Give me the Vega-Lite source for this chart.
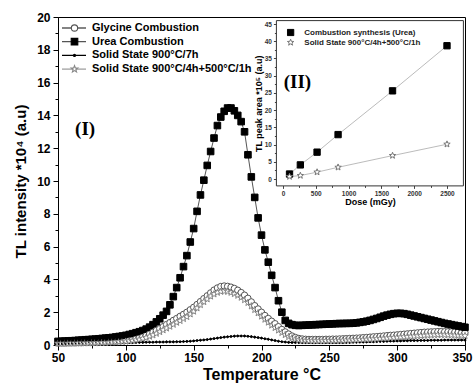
{
  "$schema": "https://vega.github.io/schema/vega-lite/v6.json",
  "width": 407,
  "height": 328,
  "autosize": "none",
  "padding": {"left": 58, "top": 17, "right": 9, "bottom": 45},
  "background": "white",
  "config": {
    "view": {"stroke": "black", "strokeWidth": 1},
    "font": "Liberation Sans",
    "axis": {"grid": false, "labelColor": "black", "tickColor": "black", "domainColor": "black", "titleColor": "black", "labelFont": "Liberation Sans", "titleFont": "Liberation Sans"}
  },
  "datasets": {
    "tl": [
      {"t":50,"G":0.12,"U":0.22,"D":0.15,"S":0.10},
      {"t":52.5,"G":0.12,"U":0.23,"D":0.15,"S":0.10},
      {"t":55,"G":0.12,"U":0.24,"D":0.15,"S":0.10},
      {"t":57.5,"G":0.13,"U":0.25,"D":0.15,"S":0.10},
      {"t":60,"G":0.13,"U":0.26,"D":0.15,"S":0.11},
      {"t":62.5,"G":0.13,"U":0.27,"D":0.15,"S":0.11},
      {"t":65,"G":0.14,"U":0.29,"D":0.15,"S":0.11},
      {"t":67.5,"G":0.14,"U":0.30,"D":0.15,"S":0.12},
      {"t":70,"G":0.15,"U":0.32,"D":0.15,"S":0.12},
      {"t":72.5,"G":0.16,"U":0.33,"D":0.15,"S":0.12},
      {"t":75,"G":0.16,"U":0.35,"D":0.15,"S":0.13},
      {"t":77.5,"G":0.17,"U":0.36,"D":0.15,"S":0.13},
      {"t":80,"G":0.18,"U":0.38,"D":0.15,"S":0.14},
      {"t":82.5,"G":0.19,"U":0.40,"D":0.15,"S":0.15},
      {"t":85,"G":0.20,"U":0.42,"D":0.15,"S":0.15},
      {"t":87.5,"G":0.21,"U":0.44,"D":0.15,"S":0.16},
      {"t":90,"G":0.22,"U":0.46,"D":0.15,"S":0.17},
      {"t":92.5,"G":0.24,"U":0.49,"D":0.15,"S":0.18},
      {"t":95,"G":0.26,"U":0.52,"D":0.15,"S":0.19},
      {"t":97.5,"G":0.28,"U":0.55,"D":0.15,"S":0.21},
      {"t":100,"G":0.30,"U":0.59,"D":0.15,"S":0.22},
      {"t":102.5,"G":0.33,"U":0.64,"D":0.15,"S":0.24},
      {"t":105,"G":0.36,"U":0.69,"D":0.15,"S":0.27},
      {"t":107.5,"G":0.40,"U":0.75,"D":0.16,"S":0.30},
      {"t":110,"G":0.45,"U":0.81,"D":0.16,"S":0.34},
      {"t":112.5,"G":0.51,"U":0.88,"D":0.16,"S":0.39},
      {"t":115,"G":0.58,"U":0.97,"D":0.17,"S":0.45},
      {"t":117.5,"G":0.67,"U":1.09,"D":0.17,"S":0.52},
      {"t":120,"G":0.78,"U":1.24,"D":0.17,"S":0.60},
      {"t":122.5,"G":0.89,"U":1.41,"D":0.18,"S":0.70},
      {"t":125,"G":1.00,"U":1.60,"D":0.18,"S":0.80},
      {"t":127.5,"G":1.12,"U":1.82,"D":0.18,"S":0.91},
      {"t":130,"G":1.25,"U":2.05,"D":0.19,"S":1.02},
      {"t":132.5,"G":1.37,"U":2.45,"D":0.19,"S":1.13},
      {"t":135,"G":1.50,"U":2.95,"D":0.19,"S":1.25},
      {"t":137.5,"G":1.62,"U":3.50,"D":0.20,"S":1.37},
      {"t":140,"G":1.75,"U":4.10,"D":0.20,"S":1.48},
      {"t":142.5,"G":1.87,"U":4.78,"D":0.21,"S":1.60},
      {"t":145,"G":2.00,"U":5.45,"D":0.22,"S":1.72},
      {"t":147.5,"G":2.15,"U":6.28,"D":0.23,"S":1.88},
      {"t":150,"G":2.30,"U":7.10,"D":0.25,"S":2.05},
      {"t":152.5,"G":2.47,"U":8.15,"D":0.27,"S":2.25},
      {"t":155,"G":2.65,"U":9.15,"D":0.29,"S":2.45},
      {"t":157.5,"G":2.83,"U":10.05,"D":0.31,"S":2.63},
      {"t":160,"G":3.00,"U":10.95,"D":0.33,"S":2.80},
      {"t":162.5,"G":3.18,"U":11.80,"D":0.36,"S":2.97},
      {"t":165,"G":3.35,"U":12.62,"D":0.39,"S":3.10},
      {"t":167.5,"G":3.48,"U":13.38,"D":0.42,"S":3.20},
      {"t":170,"G":3.57,"U":13.90,"D":0.45,"S":3.26},
      {"t":172.5,"G":3.60,"U":14.25,"D":0.48,"S":3.28},
      {"t":175,"G":3.58,"U":14.45,"D":0.50,"S":3.26},
      {"t":177.5,"G":3.53,"U":14.45,"D":0.52,"S":3.20},
      {"t":180,"G":3.45,"U":14.28,"D":0.54,"S":3.12},
      {"t":182.5,"G":3.34,"U":14.00,"D":0.55,"S":3.02},
      {"t":185,"G":3.20,"U":13.62,"D":0.55,"S":2.90},
      {"t":187.5,"G":3.04,"U":13.00,"D":0.55,"S":2.75},
      {"t":190,"G":2.85,"U":11.60,"D":0.53,"S":2.58},
      {"t":192.5,"G":2.63,"U":10.25,"D":0.51,"S":2.37},
      {"t":195,"G":2.40,"U":9.00,"D":0.48,"S":2.15},
      {"t":197.5,"G":2.20,"U":7.75,"D":0.45,"S":1.95},
      {"t":200,"G":2.00,"U":6.70,"D":0.42,"S":1.75},
      {"t":202.5,"G":1.80,"U":5.80,"D":0.38,"S":1.56},
      {"t":205,"G":1.62,"U":5.05,"D":0.35,"S":1.38},
      {"t":207.5,"G":1.45,"U":4.25,"D":0.31,"S":1.20},
      {"t":210,"G":1.30,"U":3.50,"D":0.27,"S":1.05},
      {"t":212.5,"G":1.12,"U":2.70,"D":0.23,"S":0.90},
      {"t":215,"G":0.95,"U":2.00,"D":0.20,"S":0.75},
      {"t":217.5,"G":0.80,"U":1.50,"D":0.18,"S":0.62},
      {"t":220,"G":0.67,"U":1.32,"D":0.16,"S":0.50},
      {"t":222.5,"G":0.55,"U":1.24,"D":0.15,"S":0.42},
      {"t":225,"G":0.46,"U":1.20,"D":0.15,"S":0.35},
      {"t":227.5,"G":0.40,"U":1.19,"D":0.15,"S":0.31},
      {"t":230,"G":0.37,"U":1.20,"D":0.15,"S":0.28},
      {"t":232.5,"G":0.35,"U":1.21,"D":0.15,"S":0.27},
      {"t":235,"G":0.34,"U":1.22,"D":0.15,"S":0.26},
      {"t":237.5,"G":0.34,"U":1.23,"D":0.15,"S":0.25},
      {"t":240,"G":0.34,"U":1.24,"D":0.15,"S":0.25},
      {"t":242.5,"G":0.34,"U":1.25,"D":0.15,"S":0.25},
      {"t":245,"G":0.34,"U":1.26,"D":0.15,"S":0.25},
      {"t":247.5,"G":0.35,"U":1.27,"D":0.15,"S":0.26},
      {"t":250,"G":0.35,"U":1.28,"D":0.15,"S":0.26},
      {"t":252.5,"G":0.36,"U":1.29,"D":0.15,"S":0.26},
      {"t":255,"G":0.36,"U":1.30,"D":0.15,"S":0.27},
      {"t":257.5,"G":0.37,"U":1.31,"D":0.15,"S":0.27},
      {"t":260,"G":0.38,"U":1.31,"D":0.15,"S":0.28},
      {"t":262.5,"G":0.39,"U":1.32,"D":0.16,"S":0.29},
      {"t":265,"G":0.40,"U":1.32,"D":0.16,"S":0.29},
      {"t":267.5,"G":0.41,"U":1.33,"D":0.17,"S":0.30},
      {"t":270,"G":0.42,"U":1.35,"D":0.17,"S":0.31},
      {"t":272.5,"G":0.43,"U":1.38,"D":0.18,"S":0.32},
      {"t":275,"G":0.45,"U":1.41,"D":0.18,"S":0.33},
      {"t":277.5,"G":0.46,"U":1.45,"D":0.19,"S":0.34},
      {"t":280,"G":0.48,"U":1.50,"D":0.20,"S":0.35},
      {"t":282.5,"G":0.50,"U":1.56,"D":0.20,"S":0.36},
      {"t":285,"G":0.51,"U":1.62,"D":0.21,"S":0.37},
      {"t":287.5,"G":0.53,"U":1.69,"D":0.22,"S":0.39},
      {"t":290,"G":0.55,"U":1.76,"D":0.22,"S":0.40},
      {"t":292.5,"G":0.57,"U":1.82,"D":0.23,"S":0.41},
      {"t":295,"G":0.59,"U":1.87,"D":0.24,"S":0.43},
      {"t":297.5,"G":0.60,"U":1.91,"D":0.24,"S":0.44},
      {"t":300,"G":0.62,"U":1.93,"D":0.25,"S":0.46},
      {"t":302.5,"G":0.64,"U":1.93,"D":0.25,"S":0.47},
      {"t":305,"G":0.66,"U":1.91,"D":0.26,"S":0.49},
      {"t":307.5,"G":0.68,"U":1.87,"D":0.26,"S":0.50},
      {"t":310,"G":0.70,"U":1.82,"D":0.27,"S":0.52},
      {"t":312.5,"G":0.72,"U":1.77,"D":0.27,"S":0.53},
      {"t":315,"G":0.74,"U":1.72,"D":0.27,"S":0.55},
      {"t":317.5,"G":0.76,"U":1.67,"D":0.28,"S":0.56},
      {"t":320,"G":0.78,"U":1.62,"D":0.28,"S":0.58},
      {"t":322.5,"G":0.79,"U":1.57,"D":0.28,"S":0.59},
      {"t":325,"G":0.80,"U":1.52,"D":0.29,"S":0.60},
      {"t":327.5,"G":0.81,"U":1.47,"D":0.29,"S":0.61},
      {"t":330,"G":0.82,"U":1.42,"D":0.29,"S":0.62},
      {"t":332.5,"G":0.82,"U":1.37,"D":0.29,"S":0.62},
      {"t":335,"G":0.81,"U":1.32,"D":0.30,"S":0.61},
      {"t":337.5,"G":0.81,"U":1.28,"D":0.30,"S":0.61},
      {"t":340,"G":0.80,"U":1.24,"D":0.30,"S":0.60},
      {"t":342.5,"G":0.79,"U":1.20,"D":0.30,"S":0.59},
      {"t":345,"G":0.78,"U":1.16,"D":0.30,"S":0.58},
      {"t":347.5,"G":0.76,"U":1.12,"D":0.30,"S":0.57},
      {"t":350,"G":0.75,"U":1.08,"D":0.30,"S":0.56}
    ],
    "inset": [
      {"series":"U","dose":100,"area":1.45},
      {"series":"U","dose":265,"area":4.1},
      {"series":"U","dose":520,"area":7.8},
      {"series":"U","dose":840,"area":12.9},
      {"series":"U","dose":1670,"area":25.6},
      {"series":"U","dose":2500,"area":38.7},
      {"series":"S","dose":100,"area":0.7},
      {"series":"S","dose":265,"area":1.0},
      {"series":"S","dose":520,"area":2.0},
      {"series":"S","dose":840,"area":3.4},
      {"series":"S","dose":1670,"area":6.8},
      {"series":"S","dose":2500,"area":10.1}
    ]
  },
  "layer": [
    {
      "encoding": {
        "x": {
          "field": "t", "type": "quantitative",
          "scale": {"domain": [50, 350], "nice": false, "zero": false},
          "axis": {
            "orient": "bottom",
            "values": [50,75,100,125,150,175,200,225,250,275,300,325,350],
            "labelExpr": "datum.value % 50 === 0 ? datum.label : ''",
            "tickSize": {"condition": {"test": "datum.value % 50 === 0", "value": 5}, "value": 3},
            "labelAlign": {"condition": {"test": "datum.value === 350", "value": "right"}, "value": "center"},
            "labelOffset": {"condition": {"test": "datum.value === 350", "value": 7}, "value": 0},
            "labelFontSize": 12, "labelFontWeight": "bold", "labelPadding": 2, "labelOverlap": false, "labelFlush": false,
            "title": "Temperature °C", "titleFontSize": 16, "titleFontWeight": "bold", "titlePadding": 3
          }
        },
        "y": {
          "field": "v", "type": "quantitative",
          "scale": {"domain": [0, 20], "nice": false},
          "axis": {
            "orient": "left",
            "values": [0,1,2,3,4,5,6,7,8,9,10,11,12,13,14,15,16,17,18,19,20],
            "labelExpr": "datum.value % 2 === 0 ? datum.label : ''",
            "tickSize": {"condition": {"test": "datum.value % 2 === 0", "value": 5}, "value": 3},
            "labelFontSize": 12, "labelFontWeight": "bold", "labelPadding": 3, "labelOverlap": false,
            "title": "TL intensity *10⁴ (a.u)", "titleFontSize": 15, "titleFontWeight": "bold", "titlePadding": 8
          }
        }
      },
      "layer": [
        {
          "data": {"name": "tl"},
          "transform": [{"fold": ["G", "U", "D", "S"], "as": ["series", "v"]}],
          "mark": {"type": "line", "strokeWidth": 1},
          "encoding": {
            "color": {
              "field": "series", "type": "nominal",
              "scale": {"domain": ["G","U","D","S","X"], "range": ["#333333","#555555","#000000","#999999","#000000"]},
              "legend": {
                "values": ["G","U","D","S"], "orient": "none", "legendX": 3, "legendY": 5, "title": null, "padding": 0,
                "symbolType": "stroke", "symbolSize": 576, "symbolStrokeWidth": 1.2,
                "clipHeight": 12, "rowPadding": 1.7, "labelExpr": "''", "labelFontSize": 1, "labelOffset": 0
              }
            },
            "strokeWidth": {"field": "series", "type": "nominal", "scale": {"domain": ["S","D","U","G"], "range": [1, 2, 0.8, 1]}, "legend": null}
          }
        },
        {
          "data": {"name": "tl"},
          "transform": [{"fold": ["G", "U", "D", "S"], "as": ["series", "v"]}],
          "mark": {"type": "point", "filled": true, "opacity": 1, "strokeWidth": 1},
          "encoding": {
            "shape": {
              "field": "series", "type": "nominal",
              "scale": {"domain": ["G","U","D","S"], "range": ["circle", "square", "M0.3,0A0.3,0.3 0 1 1 -0.3,0A0.3,0.3 0 1 1 0.3,0Z", "M0,-1L0.247,-0.34L0.951,-0.309L0.4,0.13L0.588,0.809L0,0.42L-0.588,0.809L-0.4,0.13L-0.951,-0.309L-0.247,-0.34Z"]},
              "legend": {
                "orient": "none", "legendX": 11, "legendY": 5, "title": null, "padding": 0, "symbolSize": 50,
                "labelOffset": 12, "rowPadding": 1.7, "clipHeight": 12, "labelLimit": 300, "symbolStrokeWidth": 1.1, "symbolOpacity": 1,
                "labelFontSize": 11, "labelFontWeight": "bold", "labelColor": "black", "labelFont": "Liberation Sans",
                "labelExpr": "datum.value === 'G' ? 'Glycine Combustion' : datum.value === 'U' ? 'Urea Combustion' : datum.value === 'D' ? 'Solid State 900°C/7h' : 'Solid State 900°C/4h+500°C/1h'"
              }
            },
            "fill": {"field": "series", "type": "nominal", "scale": {"domain": ["G","U","D","S"], "range": ["white","black","black","white"]}},
            "stroke": {"field": "series", "type": "nominal", "scale": {"domain": ["G","U","D","S"], "range": ["#555555","black","black","#888888"]}},
            "size": {"field": "series", "type": "nominal", "scale": {"domain": ["G","U","D","S"], "range": [40, 50, 50, 64]}}
          }
        },
        {
          "data": {"values": [{"t": 70, "v": 13.2, "label": "(I)"}]},
          "mark": {"type": "text", "font": "Liberation Serif", "fontWeight": "bold", "fontSize": 19, "color": "black", "baseline": "middle", "align": "center"},
          "encoding": {"text": {"field": "label"}}
        }
      ]
    },
    {
      "encoding": {
        "x": {
          "field": "dose", "type": "quantitative",
          "scale": {"domain": [-100, 2750], "range": [218.4, 405.4], "nice": false, "zero": false},
          "axis": {
            "orient": "bottom", "offset": -159.6, "domain": false, "format": "d",
            "values": [0,250,500,750,1000,1250,1500,1750,2000,2250,2500],
            "labelExpr": "datum.value % 500 === 0 ? datum.label : ''",
            "tickSize": {"condition": {"test": "datum.value % 500 === 0", "value": 3}, "value": 2},
            "tickColor": "#444444", "labelColor": "#333333",
            "labelFontSize": 6.5, "labelFontWeight": "bold", "labelPadding": 2, "labelOverlap": false, "labelFlush": false,
            "title": "Dose (mGy)", "titleFontSize": 9, "titleFontWeight": "bold", "titlePadding": 1
          }
        },
        "y": {
          "field": "area", "type": "quantitative",
          "scale": {"domain": [-2, 46], "range": [168.9, 3.6], "nice": false, "zero": false},
          "axis": {
            "orient": "left", "offset": -218.4, "domain": false,
            "values": [0,2.5,5,7.5,10,12.5,15,17.5,20,22.5,25,27.5,30,32.5,35,37.5,40,42.5,45],
            "labelExpr": "datum.value % 5 === 0 ? datum.label : ''",
            "tickSize": {"condition": {"test": "datum.value % 5 === 0", "value": 3}, "value": 2},
            "tickColor": "#444444", "labelColor": "#333333",
            "labelFontSize": 6.5, "labelFontWeight": "bold", "labelPadding": 2, "labelOverlap": false,
            "title": "TL peak area *10⁵ (a.u)", "titleFontSize": 9, "titleFontWeight": "bold", "titlePadding": 1
          }
        }
      },
      "layer": [
        {
          "data": {"values": [{"dose": -100, "dose2": 2750, "area": -2, "area2": 46}]},
          "mark": {"type": "rect", "fill": "white", "stroke": "#333333", "strokeWidth": 1},
          "encoding": {"x2": {"field": "dose2"}, "y2": {"field": "area2"}}
        },
        {
          "data": {"name": "inset"},
          "mark": {"type": "line", "stroke": "#aaaaaa", "strokeWidth": 0.8},
          "encoding": {"detail": {"field": "series", "type": "nominal"}}
        },
        {
          "data": {"name": "inset"},
          "mark": {"type": "point", "filled": true, "opacity": 1, "strokeWidth": 1},
          "encoding": {
            "shape": {
              "field": "series", "type": "nominal",
              "scale": {"domain": ["U", "S"], "range": ["square", "M0,-1L0.247,-0.34L0.951,-0.309L0.4,0.13L0.588,0.809L0,0.42L-0.588,0.809L-0.4,0.13L-0.951,-0.309L-0.247,-0.34Z"]},
              "legend": {
                "orient": "none", "legendX": 228.6, "legendY": 11.5, "title": null, "padding": 0, "symbolSize": 40,
                "labelOffset": 9.7, "rowPadding": 2, "clipHeight": 8, "labelLimit": 300, "symbolStrokeWidth": 1, "symbolOpacity": 1,
                "labelFontSize": 8, "labelFontWeight": "bold", "labelColor": "#222222", "labelFont": "Liberation Sans",
                "labelExpr": "datum.value === 'U' ? 'Combustion synthesis (Urea)' : 'Solid State 900°C/4h+500°C/1h'"
              }
            },
            "fill": {"field": "series", "type": "nominal", "scale": {"domain": ["U","S"], "range": ["black","white"]}},
            "stroke": {"field": "series", "type": "nominal", "scale": {"domain": ["U","S"], "range": ["black","#777777"]}},
            "size": {"field": "series", "type": "nominal", "scale": {"domain": ["U","S"], "range": [40, 45]}}
          }
        },
        {
          "data": {"values": [{"dose": 221, "area": 28.2, "label": "(II)"}]},
          "mark": {"type": "text", "font": "Liberation Serif", "fontWeight": "bold", "fontSize": 19, "color": "black", "baseline": "middle", "align": "center"},
          "encoding": {"text": {"field": "label"}}
        }
      ]
    }
  ],
  "resolve": {
    "scale": {"x": "independent", "y": "independent", "shape": "independent", "fill": "independent", "stroke": "independent", "size": "independent", "color": "independent"},
    "axis": {"x": "independent", "y": "independent"},
    "legend": {"shape": "independent", "fill": "independent", "stroke": "independent", "size": "independent", "color": "independent"}
  }
}
